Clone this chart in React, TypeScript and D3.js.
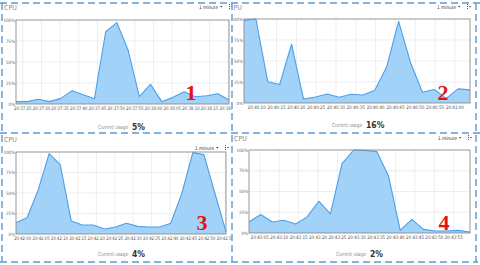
import * as d3 from 'd3'

// CPU samples (percent), one every 3 seconds
const cpu1Values = [2.8, 2.8, 5.6, 2.8, 6.7, 15.9, 11.1, 6.3, 86, 96.8, 64, 8.7, 23.4, 2.8, 7.9, 14.7, 8.7, 9.9, 12.3, 4.8]
const cpu2Values = [98.4, 100, 25.2, 22, 70, 4.8, 7.2, 10.8, 6.8, 10.4, 9.6, 15.2, 43.2, 97.2, 48, 12.8, 16, 5.5, 16.8, 15.6]
const cpu3Values = [13.8, 19.8, 53.4, 98, 84.6, 15.8, 10.9, 10.9, 6.1, 8.5, 13, 9.3, 8.5, 8.5, 13, 49.4, 99.2, 96.8, 49.4, 2.8]
const cpu4Values = [13.3, 22.2, 13.3, 15.3, 10.9, 19.4, 38.3, 23, 83.5, 100, 99.6, 98, 68.5, 3.2, 16.5, 4.4, 2.4, 2.4, 3.2, 1.2]

const cpu1Start = '20:37:23.200'
const cpu2Start = '20:40:06.800'
const cpu3Start = '20:41:58.200'
const cpu4Start = '20:43:02.200'

const cpu1Ticks = ['20:37:25', '20:37:30', '20:37:35', '20:37:40', '20:37:45', '20:37:50', '20:37:55', '20:38:00', '20:38:05', '20:38:10', '20:38:15', '20:38:20']
const cpu2Ticks = ['20:40:10', '20:40:15', '20:40:20', '20:40:25', '20:40:30', '20:40:35', '20:40:40', '20:40:45', '20:40:50', '20:40:55', '20:41:00']
const cpu3Ticks = ['20:42:00', '20:42:05', '20:42:10', '20:42:15', '20:42:20', '20:42:25', '20:42:30', '20:42:35', '20:42:40', '20:42:45', '20:42:50', '20:42:55']
const cpu4Ticks = ['20:43:05', '20:43:10', '20:43:15', '20:43:20', '20:43:25', '20:43:30', '20:43:35', '20:43:40', '20:43:45', '20:43:50', '20:43:55']

const currentUsage = ['5%', '16%', '4%', '2%']
const panelNumbers = ['1', '2', '3', '4']
const percentTicks = [0, 25, 50, 75, 100]

const SAMPLE_SECONDS = 3
const parseStart = d3.timeParse('%H:%M:%S.%L')
const parseTick = d3.timeParse('%H:%M:%S')

const font = '"Liberation Sans Narrow", "DejaVu Sans Condensed", "Liberation Sans", sans-serif'

type Box = { l: number; t: number; r: number; b: number }

type PanelProps = {
  id: string
  clip: Box
  plot: Box
  values: number[]
  start: string
  ticks: string[]
  usage: string
  num: string
  titleX: number
  titleY: number
  menuX: number
  menuY: number
  tickY: number
  tickW: number
  usageX: number
  usageY: number
  numX: number
  numY: number
}

const Panel = (p: PanelProps) => {
  const t0 = parseStart(p.start) as Date
  const t1 = new Date(t0.getTime() + (p.values.length - 1) * SAMPLE_SECONDS * 1000)
  const x = d3.scaleTime().domain([t0, t1]).range([p.plot.l, p.plot.r])
  const y = d3.scaleLinear().domain([0, 100]).range([p.plot.b, p.plot.t])

  const pts = p.values.map((v, i) => ({
    t: new Date(t0.getTime() + i * SAMPLE_SECONDS * 1000),
    v,
  }))
  const area = d3
    .area<{ t: Date; v: number }>()
    .x((d) => x(d.t))
    .y0(p.plot.b)
    .y1((d) => y(d.v))
  const line = d3
    .line<{ t: Date; v: number }>()
    .x((d) => x(d.t))
    .y((d) => y(d.v))

  const tickXs = p.ticks.map((s) => x(parseTick(s) as Date))

  return (
    <g clipPath={`url(#${p.id})`}>
      <defs>
        <clipPath id={p.id}>
          <rect x={p.clip.l} y={p.clip.t} width={p.clip.r - p.clip.l} height={p.clip.b - p.clip.t} />
        </clipPath>
      </defs>
      <text x={p.titleX} y={p.titleY} fontSize={7} fill="#8a8a8a" fontFamily={font}>
        CPU
      </text>
      <text x={p.menuX} y={p.menuY} fontSize={4.8} fill="#333" fontFamily={font} textLength={19} lengthAdjust="spacingAndGlyphs">
        1 minute
      </text>
      <path d={`M${p.menuX + 21},${p.menuY - 3}l2.4,0l-1.2,1.6z`} fill="#333" />
      <g fill="#444">
        <rect x={p.menuX + 30} y={p.menuY - 5} width={0.9} height={1.1} />
        <rect x={p.menuX + 30} y={p.menuY - 3} width={0.9} height={1.1} />
        <rect x={p.menuX + 30} y={p.menuY - 1} width={0.9} height={1.1} />
        <path d={`M${p.menuX + 32},${p.menuY - 3}l2,0l-1,1.4z`} />
      </g>

      {/* grid */}
      <g stroke="#e6e6e6" strokeWidth={0.7}>
        {percentTicks.slice(1, -1).map((v) => (
          <line key={v} x1={p.plot.l} x2={p.plot.r} y1={y(v)} y2={y(v)} />
        ))}
        {tickXs.map((tx, i) => (
          <line key={i} x1={tx} x2={tx} y1={p.plot.t} y2={p.plot.b} />
        ))}
      </g>

      <path d={area(pts) || ''} fill="#a3d2f8" />
      <path d={line(pts) || ''} fill="none" stroke="#4c9fea" strokeWidth={1.1} strokeLinejoin="round" />

      <rect
        x={p.plot.l}
        y={p.plot.t}
        width={p.plot.r - p.plot.l}
        height={p.plot.b - p.plot.t}
        fill="none"
        stroke="#8c8c8c"
        strokeWidth={0.9}
      />

      {percentTicks.map((v) => (
        <text
          key={v}
          x={p.plot.l - 1}
          y={y(v) + 1.6}
          fontSize={4.5}
          fill="#666"
          textAnchor="end"
          fontFamily={font}
        >
          {v}%
        </text>
      ))}

      {p.ticks.map((s, i) => (
        <text
          key={s}
          x={tickXs[i]}
          y={p.tickY}
          fontSize={4.8}
          fill="#555"
          textAnchor="middle"
          fontFamily={font}
          textLength={p.tickW}
          lengthAdjust="spacingAndGlyphs"
        >
          {s}
        </text>
      ))}

      <text x={p.usageX} y={p.usageY} fontSize={5.6} fill="#8a8a8a" textAnchor="end" fontFamily={font} textLength={30} lengthAdjust="spacingAndGlyphs">
        Current usage
      </text>
      <text x={p.usageX + 4} y={p.usageY + 0.5} fontSize={8.5} fontWeight="bold" fill="#333" fontFamily={font}>
        {p.usage}
      </text>

      <text
        x={p.numX}
        y={p.numY}
        fontSize={22}
        fontWeight="bold"
        fill="#e3140f"
        textAnchor="middle"
        fontFamily='"Liberation Serif", "DejaVu Serif", serif'
      >
        {p.num}
      </text>
    </g>
  )
}

export default function App() {
  const dash = { stroke: '#5a9ad8', strokeWidth: 1.4, strokeDasharray: '7 4', fill: 'none' }
  return (
    <svg
      width={480}
      height={265}
      style={{ position: 'absolute', left: 0, top: 0, background: '#fff' }}
    >
      <Panel
        id="c1"
        clip={{ l: 0, t: 0, r: 232, b: 133 }}
        plot={{ l: 16, t: 20, r: 229, b: 104 }}
        values={cpu1Values}
        start={cpu1Start}
        ticks={cpu1Ticks}
        usage={currentUsage[0]}
        num={panelNumbers[0]}
        titleX={4}
        titleY={10}
        menuX={199}
        menuY={9}
        tickY={109.5}
        tickW={17.5}
        usageX={128}
        usageY={129}
        numX={191}
        numY={100}
      />
      <Panel
        id="c2"
        clip={{ l: 233, t: 0, r: 480, b: 133 }}
        plot={{ l: 244, t: 19, r: 470, b: 103 }}
        values={cpu2Values}
        start={cpu2Start}
        ticks={cpu2Ticks}
        usage={currentUsage[1]}
        num={panelNumbers[1]}
        titleX={229}
        titleY={10}
        menuX={437}
        menuY={9}
        tickY={109}
        tickW={18}
        usageX={362}
        usageY={127}
        numX={443}
        numY={100}
      />
      <Panel
        id="c3"
        clip={{ l: 0, t: 134, r: 232, b: 265 }}
        plot={{ l: 16, t: 152, r: 226, b: 234 }}
        values={cpu3Values}
        start={cpu3Start}
        ticks={cpu3Ticks}
        usage={currentUsage[2]}
        num={panelNumbers[2]}
        titleX={4}
        titleY={142}
        menuX={195}
        menuY={150}
        tickY={240}
        tickW={17}
        usageX={128}
        usageY={256}
        numX={202}
        numY={230}
      />
      <Panel
        id="c4"
        clip={{ l: 233, t: 134, r: 480, b: 265 }}
        plot={{ l: 249, t: 150, r: 470, b: 233 }}
        values={cpu4Values}
        start={cpu4Start}
        ticks={cpu4Ticks}
        usage={currentUsage[3]}
        num={panelNumbers[3]}
        titleX={234}
        titleY={141}
        menuX={438}
        menuY={140}
        tickY={239}
        tickW={18}
        usageX={366}
        usageY={256}
        numX={444}
        numY={230}
      />

      {/* dashed frames */}
      <line x1={0} x2={480} y1={3} y2={3} {...dash} />
      <line x1={0} x2={480} y1={133} y2={133} {...dash} />
      <line x1={0} x2={478} y1={262} y2={262} {...dash} />
      <line x1={2} x2={2} y1={3} y2={262} {...dash} />
      <line x1={232} x2={232} y1={3} y2={262} {...dash} />
      <line x1={476} x2={476} y1={3} y2={262} {...dash} />
    </svg>
  )
}
